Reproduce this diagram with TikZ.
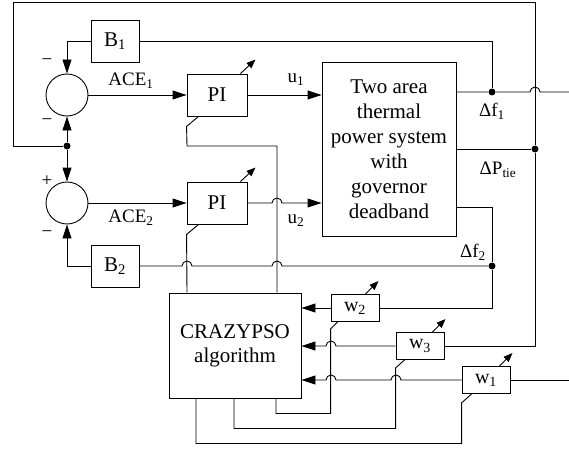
\documentclass[tikz,border=0pt]{standalone}
\usepackage{fontspec}
\setmainfont{Liberation Serif}
\usetikzlibrary{arrows.meta}

\begin{document}
\begin{tikzpicture}[
    x=1pt, y=1pt, line width=0.9pt,
    blk/.style={draw, minimum width=48pt, minimum height=42pt, inner sep=0pt, font=\fontsize{21}{25}\selectfont},
    wblk/.style={draw, minimum width=48pt, minimum height=27pt, inner sep=0pt, font=\fontsize{20}{24}\selectfont},
    sumn/.style={draw, circle, minimum size=42pt, inner sep=0pt},
    dot/.style={circle, fill, inner sep=0pt, minimum size=7pt},
    lbl/.style={font=\fontsize{19}{22}\selectfont},
    arr/.style={-{Triangle[length=14pt, width=9pt]}},
    tune/.style={-{Triangle[length=9pt, width=7pt]}}
]
\useasboundingbox (0,0) rectangle (569,448);

\node[sumn] (sum1) at (67,353) {};
\node[sumn] (sum2) at (67,245) {};
\node[blk] (B1) at (115,407) {B\textsubscript{1}};
\node[blk] (B2) at (115,182) {B\textsubscript{2}};
\node[blk, minimum width=60pt] (PI1) at (217,353) {PI};
\node[blk, minimum width=60pt] (PI2) at (217,245) {PI};
\node[blk, minimum width=134pt, minimum height=174pt, align=center] (plant) at (389,299) {Two area\\thermal\\power system\\with\\governor\\deadband};
\node[blk, minimum width=132pt, minimum height=105pt, align=center, font=\fontsize{21}{24}\selectfont] (pso) at (235,102.5) {CRAZYPSO\\algorithm};
\node[wblk] (w2) at (355,140) {w\textsubscript{2}};
\node[wblk] (w3) at (420,102) {w\textsubscript{3}};
\node[wblk] (w1) at (486,68) {w\textsubscript{1}};
\node[dot] (jn) at (67,302) {};
\node[dot] (df1) at (492,356) {};
\node[dot] (ptie) at (535,299) {};
\node[dot] (df2) at (492,182) {};
\coordinate (out1) at (569,356);
\coordinate (in1) at (569,68);

% labels and signs
\node[lbl] (ace1) at (131,367) {ACE\textsubscript{1}};
\node[lbl] (ace2) at (131,230) {ACE\textsubscript{2}};
\node[lbl] (u1) at (296,368) {u\textsubscript{1}};
\node[lbl] (u2) at (296,227) {u\textsubscript{2}};
\node[lbl] (ldf1) at (492,337) {Δf\textsubscript{1}};
\node[lbl] (lptie) at (498,278) {ΔP\textsubscript{tie}};
\node[lbl] (ldf2) at (473,196) {Δf\textsubscript{2}};
\node[lbl] (s1) at (47,386) {−};
\node[lbl] (s2) at (47,326) {−};
\node[lbl] (s3) at (47,267) {+};
\node[lbl] (s4) at (47,214) {−};

% summers and controllers
\draw[arr] (B1.west) -| (sum1.north);
\draw[arr] (B2.west) -| (sum2.south);
\draw[arr] (jn) -- (sum1.south);
\draw[arr] (jn) -- (sum2.north);
\draw[arr] (sum1.east) -- (PI1.west);
\draw[arr] (sum2.east) -- (PI2.west);
\draw[arr] (PI1.east) -- (plant.west |- PI1.east);
\draw[arr] (PI2.east) -- (272,245) arc[start angle=180, end angle=0, radius=5pt] -- (plant.west |- PI2.east);

% plant outputs
\draw (plant.east |- df1) -- (df1) -- (530,356) arc[start angle=180, end angle=0, radius=5pt] -- (out1);
\draw (B1.east) -| (df1);
\draw (plant.east) -- (ptie);
\draw (ptie) -- (535,446) -- (13,446) -- (13,302) -- (jn);
\draw (ptie) |- (w3.east);
\draw ([yshift=-58pt]plant.east) -| (df2);
\draw (df2) |- (w2.east);
\draw (B2.east) -- (182,182) arc[start angle=180, end angle=0, radius=5pt] -- (272,182) arc[start angle=180, end angle=0, radius=5pt] -- (df2);

% weights into CRAZYPSO
\draw (in1) -- (w1.east);
\draw[arr] (w1.west) -- (401,68) arc[start angle=0, end angle=180, radius=5pt] -- (336,68) arc[start angle=0, end angle=180, radius=5pt] -- (pso.east |- w1.west);
\draw[arr] (w3.west) -- (336,102) arc[start angle=0, end angle=180, radius=5pt] -- (pso.east |- w3.west);
\draw[arr] (w2.west) -- (pso.east |- w2.west);

% tuning lines
\draw ([xshift=12pt]PI1.south west) -- ++(-12,-10) -- (187,302) -- (277,302) -- ([xshift=42pt]pso.north);
\draw ([xshift=12pt]PI2.south west) -- ++(-12,-10) -- ([xshift=-48pt]pso.north);
\draw[tune] ([xshift=-7pt]PI1.north east) -- ++(15,14);
\draw[tune] ([xshift=-7pt]PI2.north east) -- ++(15,14);
\draw ([xshift=7pt]w2.south west) -- ++(-7,-7) |- ([xshift=41pt, yshift=-15pt]pso.south) -- ([xshift=41pt]pso.south);
\draw ([xshift=9pt]w3.south west) -- ++(-9,-8) |- ([xshift=-1pt, yshift=-30pt]pso.south) -- ([xshift=-1pt]pso.south);
\draw ([xshift=10pt]w1.south west) -- ++(-10,-9) |- ([xshift=-39pt, yshift=-45pt]pso.south) -- ([xshift=-39pt]pso.south);
\draw[tune] ([xshift=-14pt]w2.north east) -- ++(13,13);
\draw[tune] ([xshift=-12pt]w3.north east) -- ++(13,13);
\draw[tune] ([xshift=-11pt]w1.north east) -- ++(13,13);
\end{tikzpicture}
\end{document}
